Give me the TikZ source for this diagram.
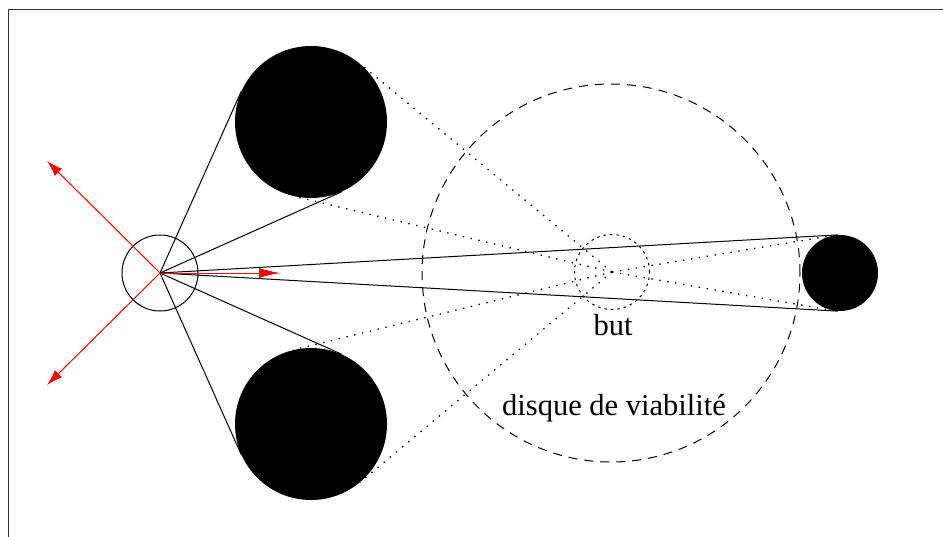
\documentclass[tikz,border=0pt]{standalone}
\usepackage{fontspec}
\setmainfont{Liberation Serif}
\usetikzlibrary{calc,arrows.meta}
\begin{document}
\begin{tikzpicture}[x=1pt,y=-1pt,
  obst/.style={circle,fill=black,inner sep=0pt,minimum size=#1},
  solidline/.style={line width=1pt,black},
  dotline/.style={line width=1.3pt,black,dash pattern=on 1.4pt off 6.6pt},
  redarrow/.style={line width=1pt,red,-{Latex[length=#1,width=10pt]}},
  lbl/.style={font=\fontsize{30.5}{36}\selectfont,inner sep=0pt,anchor=base}]
\useasboundingbox (0,0) rectangle (943,536);
\draw[line width=1pt,black!80] (8.5,9.5) rectangle (1000,600);
% obstacles
\node[obst=152pt] (top) at (311,122) {};
\node[obst=152pt] (bot) at (311,424) {};
\node[obst=76pt] (obsR) at (840,273) {};
% robot and goal
\node[circle,draw,line width=1pt,minimum size=76pt,inner sep=0pt] (robot) at (160,273) {};
\coordinate (rc) at (160,273);
\node[circle,draw,line width=1pt,dash pattern=on 2.5pt off 4pt,minimum size=75pt,inner sep=0pt] (goal) at (612,272) {};
\coordinate (gc) at (612,272);
\node[circle,draw,line width=1pt,dash pattern=on 9pt off 7pt,minimum size=378pt,inner sep=0pt] (viab) at (611,273) {};
% tangents from robot and from goal
\foreach \o in {top,bot,obsR}{
  \foreach \s in {1,2}{
    \draw[solidline] (rc) -- (tangent cs:node=\o,point={(rc)},solution=\s);
    \draw[dotline] (gc) -- (tangent cs:node=\o,point={(gc)},solution=\s);
  }
}
% red arrows
\coordinate (ul) at (47,161);
\coordinate (dl) at (47,385);
\coordinate (fw) at (280,273);
\draw[redarrow=16pt] (rc) -- (ul);
\draw[redarrow=16pt] (rc) -- (dl);
\draw[redarrow=21pt] (rc) -- (fw);
% labels
\node[lbl] (butlbl) at (613,335) {but};
\node[lbl] (viablbl) at (614,415) {disque de viabilité};
\end{tikzpicture}
\end{document}
